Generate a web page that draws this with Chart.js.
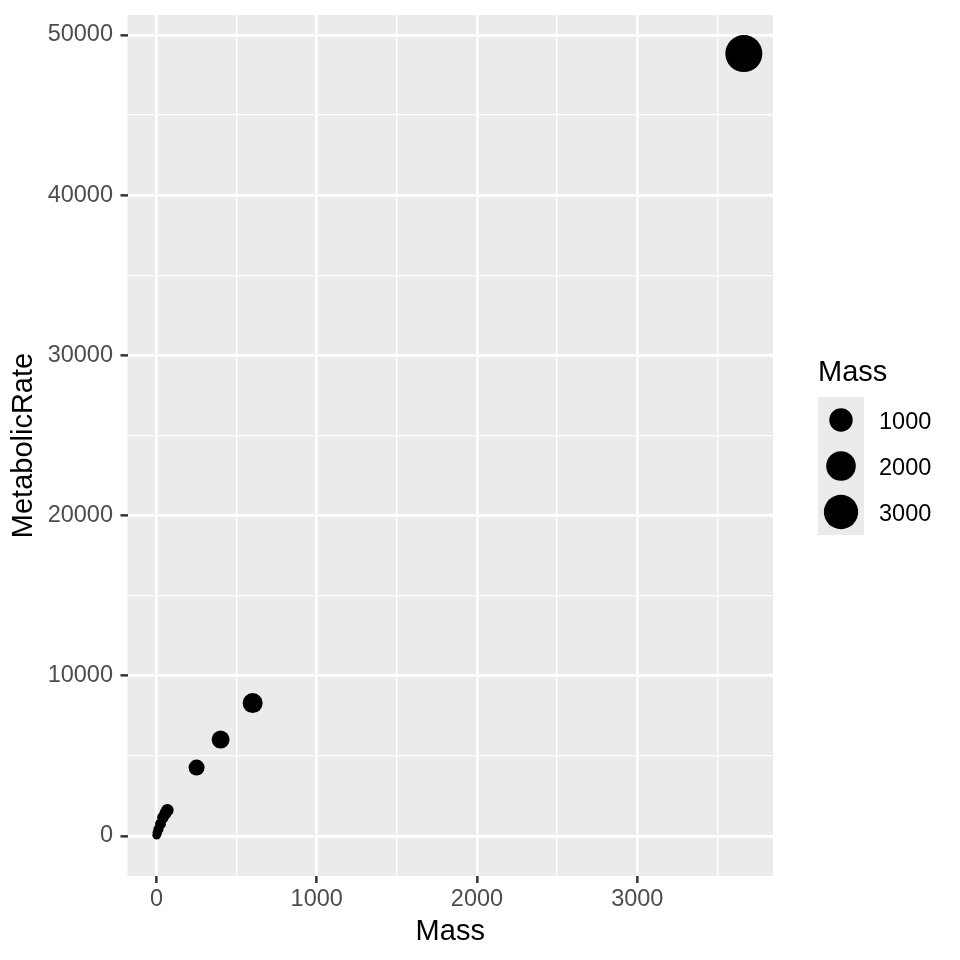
<!DOCTYPE html>
<html>
<head>
<meta charset="utf-8">
<script src="https://cdn.jsdelivr.net/npm/chart.js@4.4.1/dist/chart.umd.min.js"></script>
<style>
  html, body { margin: 0; padding: 0; background: #fff; }
</style>
</head>
<body>
<canvas id="myChart" width="960" height="960"></canvas>
<script>
// data
const mass = [1, 5, 12, 25, 40, 55, 68, 250, 400, 600, 3665];
const metabolicRate = [50, 200, 420, 750, 1150, 1400, 1610, 4270, 6020, 8300, 48840];
const xTickLabels = [0, 1000, 2000, 3000];
const yTickLabels = [0, 10000, 20000, 30000, 40000, 50000];
const legendBreaks = [1000, 2000, 3000];

// axis limits (ggplot 5% expansion, as measured)
const xLimits = [-181, 3847];
const yLimits = [-2497, 51248];

const FONT = '"Liberation Sans", Arial, Helvetica, sans-serif';
Chart.defaults.font.family = FONT;

const minMass = Math.min(...mass);
const maxMass = Math.max(...mass);

// ggplot scale_size: area mapping onto size range 1..6
function sizeRadius(m) {
    const size = 1 + 5 * Math.sqrt((m - minMass) / (maxMass - minMass));
    return (5.69 * size + 1.89) / 2 + 0.5;
}

// major ticks + minor ones halfway between them (ggplot minor breaks)
function withMinor(major, limits) {
    const step = major[1] - major[0];
    const out = [];
    const first = major[0] - step / 2;
    if (first > limits[0]) out.push(first);
    major.forEach(v => {
        out.push(v);
        if (v + step / 2 < limits[1]) out.push(v + step / 2);
    });
    return out.map(v => ({value: v}));
}

const isMajor = (v, list) => list.includes(v);

const panelBg = {
    id: 'panelBg',
    beforeDraw(chart) {
        const {ctx, chartArea: a} = chart;
        ctx.save();
        ctx.fillStyle = '#fff';
        ctx.fillRect(0, 0, chart.width, chart.height);
        ctx.fillStyle = '#EBEBEB';
        ctx.fillRect(a.left, a.top, a.right - a.left, a.bottom - a.top);
        ctx.restore();
    }
};

const sizeLegend = {
    id: 'sizeLegend',
    afterDraw(chart) {
        const ctx = chart.ctx;
        const x0 = chart.chartArea.right + 45;
        const top = 397;
        const key = 46;
        ctx.save();
        ctx.fillStyle = '#000';
        ctx.font = '29px ' + FONT;
        ctx.textBaseline = 'alphabetic';
        ctx.fillText('Mass', x0, 381);
        ctx.fillStyle = '#EBEBEB';
        ctx.fillRect(x0, top, key, key * legendBreaks.length);
        ctx.font = '23.5px ' + FONT;
        legendBreaks.forEach((b, i) => {
            const cy = top + key * i + key / 2;
            ctx.fillStyle = '#000';
            ctx.beginPath();
            ctx.arc(x0 + key / 2, cy, sizeRadius(b), 0, Math.PI * 2);
            ctx.fill();
            ctx.fillText(String(b), x0 + key + 15, cy + 8.5);
        });
        ctx.restore();
    }
};

const ctx = document.getElementById('myChart');

new Chart(ctx, {
    type: 'scatter',
    data: {
        datasets: [{
            label: 'Mass',
            data: mass.map((m, i) => ({x: m, y: metabolicRate[i]})),
            backgroundColor: '#000',
            borderWidth: 0,
            pointRadius: c => sizeRadius(c.raw.x),
            pointHoverRadius: c => sizeRadius(c.raw.x)
        }]
    },
    options: {
        responsive: false,
        animation: false,
        layout: { autoPadding: false, padding: { top: 15, right: 187, left: 0, bottom: 0 } },
        plugins: {
            legend: { display: false },
            tooltip: { enabled: false }
        },
        scales: {
            x: {
                type: 'linear',
                min: xLimits[0],
                max: xLimits[1],
                afterFit: s => {
                    s.height = 84;
                    s.paddingLeft = 0;
                    s.paddingRight = 0;
                },
                afterBuildTicks: s => { s.ticks = withMinor(xTickLabels, xLimits); },
                border: { display: false },
                grid: {
                    color: '#fff',
                    lineWidth: c => isMajor(c.tick.value, xTickLabels) ? 2.7 : 1.3,
                    tickColor: c => isMajor(c.tick.value, xTickLabels) ? '#333333' : 'rgba(0,0,0,0)',
                    tickLength: 7,
                    tickWidth: 2.5
                },
                ticks: {
                    autoSkip: false,
                    maxRotation: 0,
                    padding: 2,
                    color: '#4D4D4D',
                    font: { size: 23.5 },
                    callback: v => isMajor(v, xTickLabels) ? String(v) : ''
                },
                title: {
                    display: true,
                    text: 'Mass',
                    color: '#000',
                    font: { size: 29 },
                    padding: { top: 0, bottom: 11 }
                }
            },
            y: {
                type: 'linear',
                min: yLimits[0],
                max: yLimits[1],
                afterFit: s => {
                    s.width = 127.5;
                    s.paddingTop = 0;
                    s.paddingBottom = 0;
                },
                afterBuildTicks: s => { s.ticks = withMinor(yTickLabels, yLimits); },
                border: { display: false },
                grid: {
                    color: '#fff',
                    lineWidth: c => isMajor(c.tick.value, yTickLabels) ? 2.7 : 1.3,
                    tickColor: c => isMajor(c.tick.value, yTickLabels) ? '#333333' : 'rgba(0,0,0,0)',
                    tickLength: 7,
                    tickWidth: 2.5
                },
                ticks: {
                    autoSkip: false,
                    padding: 7.5,
                    color: '#4D4D4D',
                    font: { size: 23.5 },
                    callback: v => isMajor(v, yTickLabels) ? String(v) : ''
                },
                title: {
                    display: true,
                    text: 'MetabolicRate',
                    color: '#000',
                    font: { size: 29 },
                    padding: { top: 7, bottom: 0 }
                }
            }
        }
    },
    plugins: [panelBg, sizeLegend]
});
</script>
</body>
</html>
